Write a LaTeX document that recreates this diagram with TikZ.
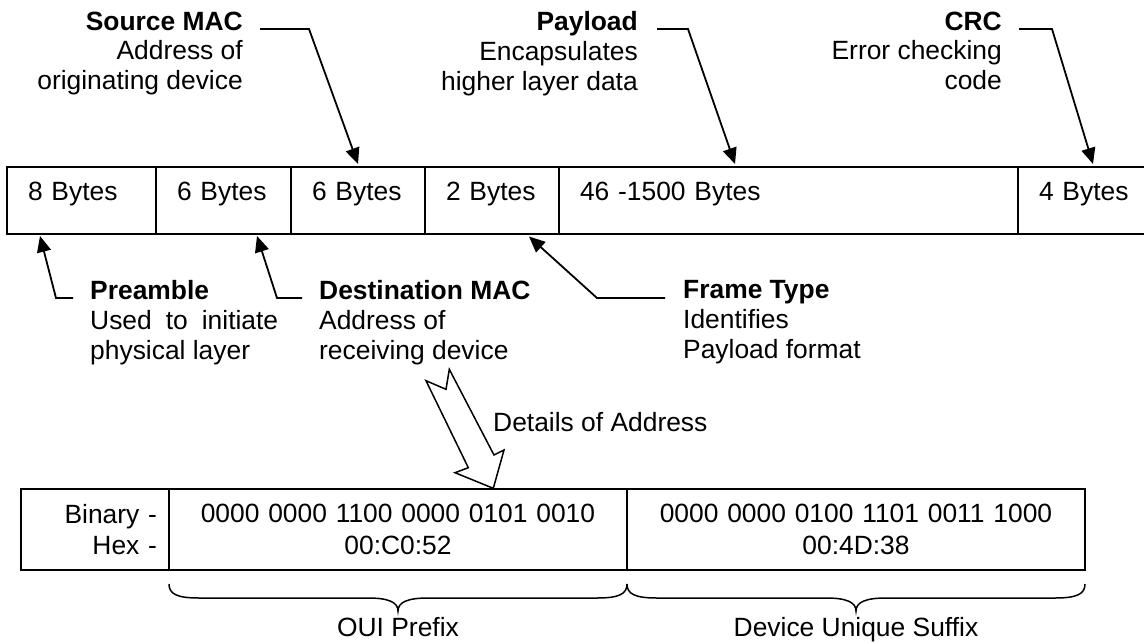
\documentclass[tikz,border=0pt]{standalone}
\usepackage{fontspec}
\setmainfont{Liberation Sans}
\usetikzlibrary{arrows.meta,calc}
\begin{document}
\begin{tikzpicture}[x=1pt,y=-1pt,
  every node/.style={font=\fontsize{26.4}{29.7}\selectfont, inner sep=0pt},
  cell/.style={draw, line width=1.8pt, outer sep=0pt, inner xsep=21pt, inner ysep=0pt,
    text height=33pt, text depth=34pt, align=left, anchor=north west},
  tcell/.style={draw, line width=1.8pt, outer sep=0pt, anchor=north west, minimum height=81pt,
    inner sep=0pt, font=\fontsize{26.4}{31.5}\selectfont},
  lblr/.style={align=right, anchor=north east},
  lbll/.style={align=left, anchor=north west},
  conn/.style={line width=1.8pt, -{Triangle[length=16pt,width=14pt]}},
  bracestyle/.style={line width=1.5pt},
  hollow/.style={line width=1.5pt, fill=white, line join=miter}
]
\fill[white] (0,0) rectangle (1144,641);
\useasboundingbox (0,0) rectangle (1144,641);

% frame cells
\node[cell, text width=107pt] (c1) at (7,167) {8 Bytes};
\node[cell, text width=93pt]  (c2) at (156,167) {6 Bytes};
\node[cell, text width=92pt]  (c3) at (291,167) {6 Bytes};
\node[cell, text width=92pt]  (c4) at (425,167) {2 Bytes};
\node[cell, text width=417pt] (c5) at (559,167) {46 -1500 Bytes};
\node[cell, text width=100pt] (c6) at (1018,167) {4 Bytes};

% top labels
\node[lblr] (src) at (243,11.6) {\textbf{Source MAC}\\Address of\\originating device};
\node[lblr] (pay) at (638,11.6) {\textbf{Payload}\\Encapsulates\\higher layer data};
\node[lblr] (crc) at (1002,11.6) {\textbf{CRC}\\Error checking\\code};

\draw[conn] ($(src.north east)+(17,17.4)$) -- ++(49,0) -- ($(c3.north west)+(67,-3)$);
\draw[conn] ($(pay.north east)+(19,17.4)$) -- ++(31,0) -- ($(c5.north west)+(176,-3)$);
\draw[conn] ($(crc.north east)+(17,17.4)$) -- ++(33,0) -- ($(c6.north west)+(75,-3)$);

% bottom labels
\node[lbll] (pre) at (90,280.3) {\textbf{Preamble}\\\makebox[188pt][s]{Used to initiate}\\physical layer};
\node[lbll] (dst) at (319,280.3) {\textbf{Destination MAC}\\Address of\\receiving device};
\node[lbll] (ftp) at (683,280.3) {\textbf{Frame Type}\\Identifies\\Payload format};

\draw[conn] ($(pre.north west)+(-17,17.7)$) -- ++(-17,0) -- ($(c1.south west)+(33,2)$);
\draw[conn] ($(dst.north west)+(-17,17.7)$) -- ++(-25,0) -- ($(c2.south west)+(101,2)$);
\draw[conn] ($(ftp.north west)+(-18,17.7)$) -- ++(-68,0) -- ($(c4.south west)+(104,2.5)$);

% hollow arrow
\draw[hollow] (426,380.7) -- (446,389.3) -- (449.3,369.3) -- (494,455) -- (504,450)
  -- (493.3,488.3) -- (455,472.7) -- (468.3,467.7) -- cycle;
\node[anchor=base west] (det) at (493,431.7) {Details of Address};

% bottom table
\node[tcell, minimum width=148pt, text width=124pt, align=right] (b1) at (21,489) {Binary -\\Hex -};
\node[tcell, minimum width=458pt, text width=440pt, align=center] (b2) at (169,489)
  {0000 0000 1100 0000 0101 0010\\00:C0:52};
\node[tcell, minimum width=458pt, text width=440pt, align=center] (b3) at (627,489)
  {0000 0000 0100 1101 0011 1000\\00:4D:38};

% braces
\draw[bracestyle] (169,584) .. controls (169,594) and (177,598) .. (199,598) -- (368,598)
  .. controls (388,598) and (398,602) .. (398,611) .. controls (398,602) and (408,598) .. (428,598)
  -- (597,598) .. controls (619,598) and (627,594) .. (627,584);
\draw[bracestyle] (627,584) .. controls (627,594) and (635,598) .. (657,598) -- (826,598)
  .. controls (846,598) and (856,602) .. (856,611) .. controls (856,602) and (866,598) .. (886,598)
  -- (1055,598) .. controls (1077,598) and (1085,594) .. (1085,584);
\node[anchor=base] (oui) at (398,636) {OUI Prefix};
\node[anchor=base] (dus) at (856,636) {Device Unique Suffix};
\end{tikzpicture}
\end{document}
